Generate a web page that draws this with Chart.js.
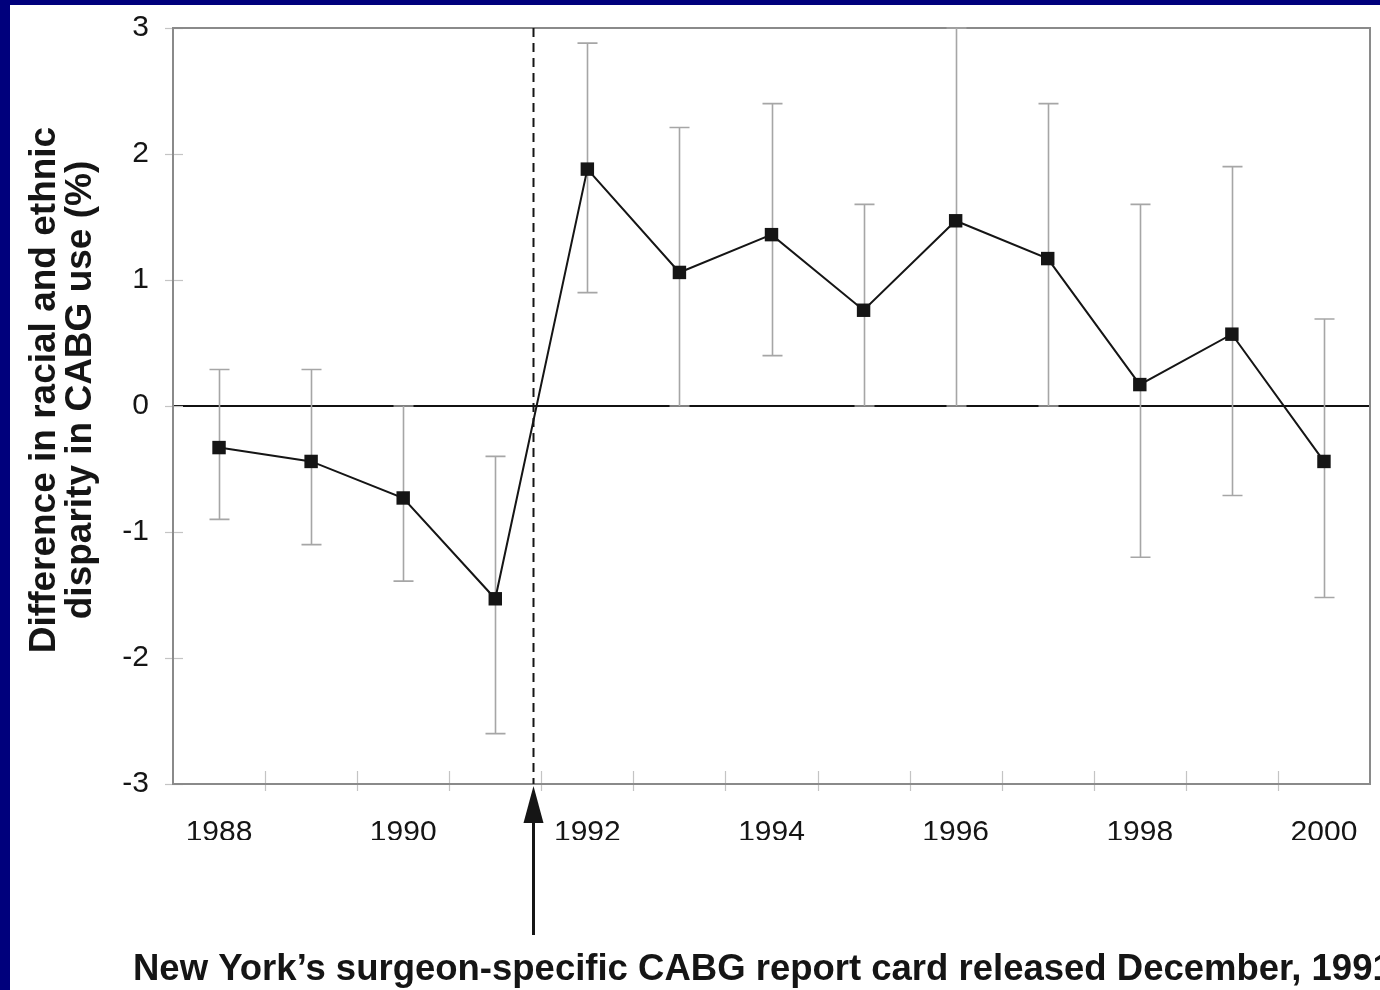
<!DOCTYPE html>
<html>
<head>
<meta charset="utf-8">
<title>CABG disparity</title>
<script src="https://cdn.jsdelivr.net/npm/chart.js@4/dist/chart.umd.min.js"></script>
<style>
  html, body {
    margin: 0;
    padding: 0;
    width: 1380px;
    height: 990px;
    overflow: hidden;
    background: #00007c;
  }
  #chartBox {
    position: absolute;
    left: 10px;
    top: 5px;
    width: 1370px;
    height: 985px;
    background: #ffffff;
  }
</style>
</head>
<body>
<div id="chartBox">
  <canvas id="disparityChart" width="1370" height="985"></canvas>
</div>
<script>
// ============================
// DATA
// ============================
const years = ["1988", "1989", "1990", "1991", "1992", "1993", "1994",
               "1995", "1996", "1997", "1998", "1999", "2000"];
const disparity = [-0.33, -0.44, -0.73, -1.53, 1.88, 1.06, 1.36,
                   0.76, 1.47, 1.17, 0.17, 0.57, -0.44];
const ciHigh = [0.29, 0.29, 0.0, -0.40, 2.88, 2.21, 2.40,
                1.60, 3.0, 2.40, 1.60, 1.90, 0.69];
const ciLow = [-0.90, -1.10, -1.39, -2.60, 0.90, 0.0, 0.40,
               0.0, 0.0, 0.0, -1.20, -0.71, -1.52];
const yTicks = [-3, -2, -1, 0, 1, 2, 3];
const yTitle = ["Difference in racial and ethnic", "disparity in CABG use (%)"];
const reportYear = 1991.41;
const reportNote = "New York\u2019s surgeon-specific CABG report card released December, 1991";

const FONT = "'Liberation Sans', Arial, Helvetica, sans-serif";
const INK = "#151515";
const NONE = "rgba(0,0,0,0)";

// ============================
// HELPER: year -> pixel on category axis
// ============================
function yearToPixel(xScale, year) {
  const idx = year - Number(years[0]);
  const i0 = Math.floor(idx);
  const p0 = xScale.getPixelForValue(i0);
  const p1 = xScale.getPixelForValue(i0 + 1);
  return p0 + (p1 - p0) * (idx - i0);
}

// ============================
// PLUGIN: frame, ticks, error bars, annotation
// ============================
const decorPlugin = {
  id: "decor",
  beforeDatasetsDraw(chart) {
    const { ctx, chartArea: a, scales: { x, y } } = chart;
    ctx.save();

    // tick marks crossing the axes
    ctx.strokeStyle = "#c4c4c4";
    ctx.lineWidth = 1.2;
    yTicks.forEach((v) => {
      const py = Math.round(y.getPixelForValue(v)) + 0.5;
      ctx.beginPath();
      ctx.moveTo(a.left - 8, py);
      ctx.lineTo(a.left + 10, py);
      ctx.stroke();
    });
    for (let i = 0; i < years.length - 1; i++) {
      const px = Math.round((x.getPixelForValue(i) + x.getPixelForValue(i + 1)) / 2) + 0.5;
      ctx.beginPath();
      ctx.moveTo(px, a.bottom - 13);
      ctx.lineTo(px, a.bottom + 7);
      ctx.stroke();
    }

    // plot frame
    ctx.strokeStyle = "#8a8a8a";
    ctx.lineWidth = 2;
    ctx.strokeRect(a.left, a.top, a.right - a.left, a.bottom - a.top);

    // error bars
    ctx.strokeStyle = "#a6a6a6";
    ctx.lineWidth = 1.6;
    years.forEach((yr, i) => {
      const px = Math.round(x.getPixelForValue(i)) + 0.5;
      const top = y.getPixelForValue(ciHigh[i]);
      const bot = y.getPixelForValue(ciLow[i]);
      ctx.beginPath();
      ctx.moveTo(px, top);
      ctx.lineTo(px, bot);
      ctx.moveTo(px - 10, top);
      ctx.lineTo(px + 10, top);
      ctx.moveTo(px - 10, bot);
      ctx.lineTo(px + 10, bot);
      ctx.stroke();
    });

    // dashed release line
    const rx = Math.round(yearToPixel(x, reportYear)) + 0.5;
    ctx.strokeStyle = INK;
    ctx.lineWidth = 2;
    ctx.setLineDash([9, 6]);
    ctx.beginPath();
    ctx.moveTo(rx, a.top);
    ctx.lineTo(rx, a.bottom);
    ctx.stroke();
    ctx.restore();
  },
  afterDraw(chart) {
    const { ctx, chartArea: a, scales: { x } } = chart;
    ctx.save();

    // arrow up to the axis
    const rx = Math.round(yearToPixel(x, reportYear)) + 0.5;
    ctx.strokeStyle = INK;
    ctx.fillStyle = INK;
    ctx.lineWidth = 3;
    ctx.beginPath();
    ctx.moveTo(rx, a.bottom + 36);
    ctx.lineTo(rx, a.bottom + 151);
    ctx.stroke();
    ctx.beginPath();
    ctx.moveTo(rx, a.bottom + 2);
    ctx.lineTo(rx - 10, a.bottom + 39);
    ctx.lineTo(rx + 10, a.bottom + 39);
    ctx.closePath();
    ctx.fill();

    // caption
    ctx.font = "bold 36.5px " + FONT;
    ctx.textAlign = "left";
    ctx.textBaseline = "alphabetic";
    ctx.fillText(reportNote, 123, 975);

    // y axis title (two rotated lines)
    ctx.font = "bold 37px " + FONT;
    ctx.textAlign = "center";
    const midY = (a.top + a.bottom) / 2 - 16;
    yTitle.forEach((line, i) => {
      ctx.save();
      ctx.translate(45 + i * 36, midY);
      ctx.rotate(-Math.PI / 2);
      ctx.fillText(line, 0, 0);
      ctx.restore();
    });
    ctx.restore();
  },
};

// ============================
// CHART
// ============================
const canvas = document.getElementById("disparityChart");
new Chart(canvas, {
  type: "line",
  data: {
    labels: years,
    datasets: [
      {
        data: disparity,
        borderColor: INK,
        borderWidth: 2,
        tension: 0,
        pointStyle: "rect",
        pointRadius: 9.5,
        pointBackgroundColor: INK,
        pointBorderColor: INK,
        pointBorderWidth: 0,
        clip: false,
      },
    ],
  },
  options: {
    responsive: false,
    animation: false,
    layout: {
      padding: { top: 23, right: 10, left: 0, bottom: 150 },
    },
    plugins: {
      legend: { display: false },
      tooltip: { enabled: false },
    },
    scales: {
      x: {
        offset: true,
        border: { display: false },
        grid: {
          display: true,
          drawOnChartArea: false,
          drawTicks: true,
          tickLength: 31,
          color: NONE,
          tickColor: NONE,
        },
        afterFit: (scale) => { scale.height = 56; },
        ticks: {
          autoSkip: false,
          maxRotation: 0,
          padding: 0,
          color: INK,
          font: { family: FONT, size: 30 },
          callback: function (value, index) {
            return Number(years[index]) % 2 === 0 ? years[index] : "";
          },
        },
      },
      y: {
        min: -3,
        max: 3,
        border: { display: false },
        afterFit: (scale) => { scale.width = 163; },
        grid: {
          drawTicks: true,
          tickLength: 24,
          tickColor: NONE,
          color: (ctx) => (ctx.tick && ctx.tick.value === 0 ? "#111111" : NONE),
          lineWidth: (ctx) => (ctx.tick && ctx.tick.value === 0 ? 2 : 0),
        },
        ticks: {
          stepSize: 1,
          padding: 0,
          color: INK,
          font: { family: FONT, size: 30 },
        },
      },
    },
  },
  plugins: [decorPlugin],
});
</script>
</body>
</html>
